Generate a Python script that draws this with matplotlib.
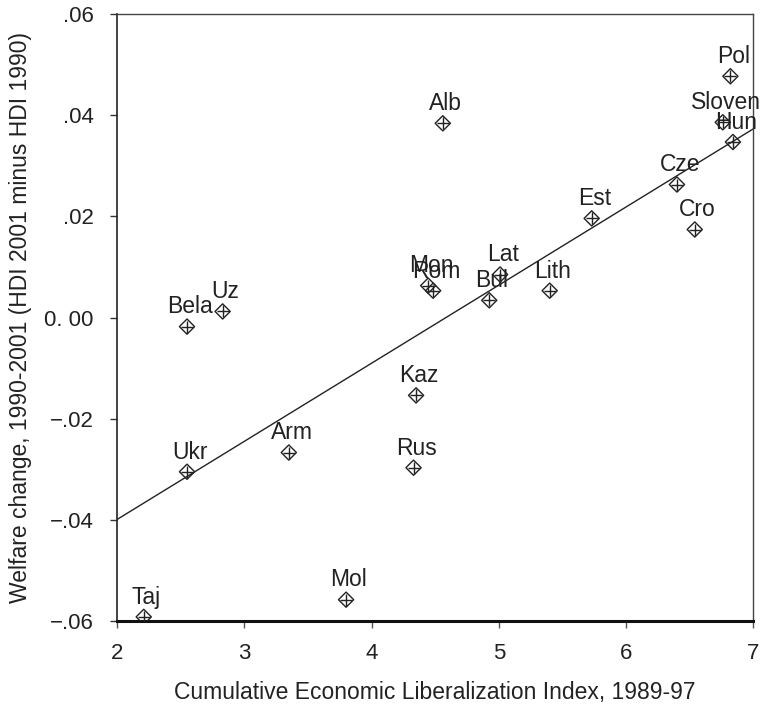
import numpy as np
import matplotlib
matplotlib.use("Agg")
import matplotlib.pyplot as plt

plt.rcParams['font.family'] = ['Liberation Sans', 'DejaVu Sans']

countries = ["Pol", "Sloven", "Hun", "Cze", "Cro", "Alb", "Est", "Mon", "Rom",
             "Lat", "Bul", "Lith", "Bela", "Uz", "Kaz", "Arm", "Rus", "Ukr",
             "Taj", "Mol"]
liberalization = [6.82, 6.76, 6.84, 6.40, 6.54, 4.56, 5.73, 4.445, 4.484,
                  5.01, 4.925, 5.40, 2.55, 2.83, 4.35, 3.35, 4.33, 2.55,
                  2.21, 3.80]
welfare_change = [0.0477, 0.0386, 0.0347, 0.0263, 0.0174, 0.0384, 0.0196,
                  0.0063, 0.0053, 0.0085, 0.0034, 0.0053, -0.0018, 0.0012,
                  -0.0154, -0.0267, -0.0297, -0.0305, -0.0592, -0.0558]

x_ticks = [2, 3, 4, 5, 6, 7]
y_ticks = [0.06, 0.04, 0.02, 0.0, -0.02, -0.04, -0.06]
y_tick_labels = [".06", ".04", ".02", "0. 00", "\u2212.02", "\u2212.04", "\u2212.06"]

fig = plt.figure(figsize=(7.75, 7.04), dpi=100)
ax = fig.add_axes([0.151, 0.118, 0.821, 0.862])

x = np.array(liberalization)
y = np.array(welfare_change)
slope, intercept = np.polyfit(x, y, 1)
xl = np.array([2, 7])
ax.plot(xl, intercept + slope * xl, color='#222222', lw=1.0, zorder=2)

ax.scatter(x, y, marker='D', s=60, facecolors='none', edgecolors='#222222',
           linewidths=1.0, zorder=3)
ax.scatter(x, y, marker='+', s=75, color='#222222', linewidths=1.0, zorder=3)

for name, xi, yi in zip(countries, liberalization, welfare_change):
    ax.annotate(name, (xi, yi), xytext=(2, 9.5), textcoords='offset points',
                ha='center', va='baseline', fontsize=16.5, color='#222222',
                zorder=4)

ax.set_xlim(2, 7)
ax.set_ylim(-0.06, 0.06)
ax.set_xticks(x_ticks)
ax.set_xticklabels([str(t) for t in x_ticks])
ax.set_yticks(y_ticks)
ax.set_yticklabels(y_tick_labels)
ax.tick_params(axis='x', length=5, width=1, color='#555555', pad=11,
               labelsize=16, labelcolor='#222222')
ax.tick_params(axis='y', length=5, width=1, color='#333333', pad=12,
               labelsize=16, labelcolor='#222222')

for s in ['top', 'right']:
    ax.spines[s].set_linewidth(1.0)
    ax.spines[s].set_color('#444444')
ax.spines['left'].set_linewidth(1.2)
ax.spines['left'].set_color('#222222')
ax.spines['bottom'].set_linewidth(2.2)
ax.spines['bottom'].set_color('#111111')

ax.set_xlabel("Cumulative Economic Liberalization Index, 1989-97",
              fontsize=16.5, color='#222222', labelpad=12)
ax.set_ylabel("Welfare change, 1990-2001 (HDI 2001 minus HDI 1990)",
              fontsize=16.5, color='#222222', labelpad=9)

fig.savefig("out.png", dpi=100)
